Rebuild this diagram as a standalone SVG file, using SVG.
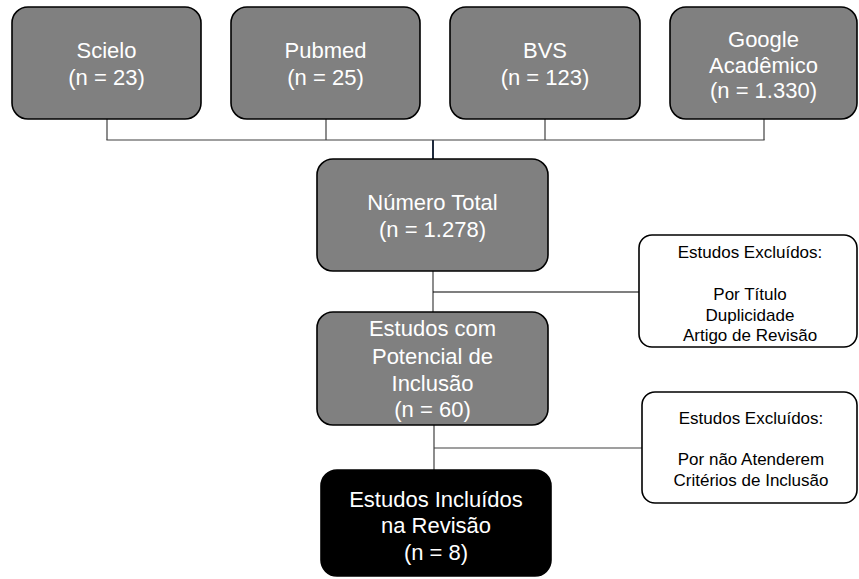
<svg xmlns="http://www.w3.org/2000/svg" width="859" height="579" viewBox="0 0 859 579">
<style>
.n rect{fill:#808080;stroke:#000;stroke-width:1.6}
.n text{fill:#fff;font-family:"Liberation Sans",Arial,sans-serif;font-size:22px;text-anchor:middle}
.k rect{fill:#000;stroke:#000;stroke-width:1.6}
.k text{fill:#fff;font-family:"Liberation Sans",Arial,sans-serif;font-size:22px;text-anchor:middle}
.x rect{fill:#fff;stroke:#000;stroke-width:1.6}
.x text{fill:#000;font-family:"Liberation Sans",Arial,sans-serif;font-size:17px;text-anchor:middle}
.c line{stroke:#404040;stroke-width:1.2;fill:none}
</style>
<rect x="0" y="0" width="859" height="579" fill="#fff"/>
<g class="c" id="connectors">
<line x1="107" y1="119" x2="107" y2="140"/>
<line x1="326" y1="119" x2="326" y2="140"/>
<line x1="545" y1="119" x2="545" y2="140"/>
<line x1="764" y1="119" x2="764" y2="140"/>
<line x1="106.4" y1="140" x2="764.6" y2="140"/>
<line x1="433" y1="140" x2="433" y2="159" style="stroke:#1f2a3c;stroke-width:2"/>
<line x1="433" y1="271" x2="433" y2="312"/>
<line x1="433" y1="292" x2="639" y2="292" style="stroke:#000"/>
<line x1="434" y1="425" x2="434" y2="470"/>
<line x1="434" y1="448" x2="642" y2="448"/>
</g>
<g class="n" id="scielo">
<rect x="12" y="7" width="189" height="112" rx="16"/>
<text x="106.5" y="58">Scielo</text>
<text x="106.5" y="85">(n = 23)</text>
</g>
<g class="n" id="pubmed">
<rect x="231" y="7" width="189" height="112" rx="16"/>
<text x="325.5" y="58">Pubmed</text>
<text x="325.5" y="85">(n = 25)</text>
</g>
<g class="n" id="bvs">
<rect x="450" y="7" width="190" height="112" rx="16"/>
<text x="545" y="58">BVS</text>
<text x="545" y="85">(n = 123)</text>
</g>
<g class="n" id="google">
<rect x="670" y="7" width="187" height="112" rx="16"/>
<text x="763.5" y="47">Google</text>
<text x="763.5" y="73">Acadêmico</text>
<text x="763.5" y="98">(n = 1.330)</text>
</g>
<g class="n" id="total">
<rect x="317" y="159" width="231" height="112" rx="16"/>
<text x="432.5" y="210">Número Total</text>
<text x="432.5" y="237">(n = 1.278)</text>
</g>
<g class="n" id="potencial">
<rect x="317" y="312" width="231" height="113" rx="16"/>
<text x="432.5" y="336">Estudos com</text>
<text x="432.5" y="364">Potencial de</text>
<text x="432.5" y="391">Inclusão</text>
<text x="432.5" y="417">(n = 60)</text>
</g>
<g class="k" id="incluidos">
<rect x="321" y="470" width="230" height="106" rx="16"/>
<text x="436" y="507">Estudos Incluídos</text>
<text x="436" y="533">na Revisão</text>
<text x="436" y="560">(n = 8)</text>
</g>
<g class="x" id="excluidos1">
<rect x="639" y="235" width="218" height="112" rx="13"/>
<text x="750" y="258">Estudos Excluídos:</text>
<text x="750" y="300">Por Título</text>
<text x="750" y="320.5">Duplicidade</text>
<text x="750" y="341">Artigo de Revisão</text>
</g>
<g class="x" id="excluidos2">
<rect x="642" y="392" width="215" height="111" rx="13"/>
<text x="751" y="424">Estudos Excluídos:</text>
<text x="751" y="465">Por não Atenderem</text>
<text x="751" y="485.5">Critérios de Inclusão</text>
</g>
</svg>
